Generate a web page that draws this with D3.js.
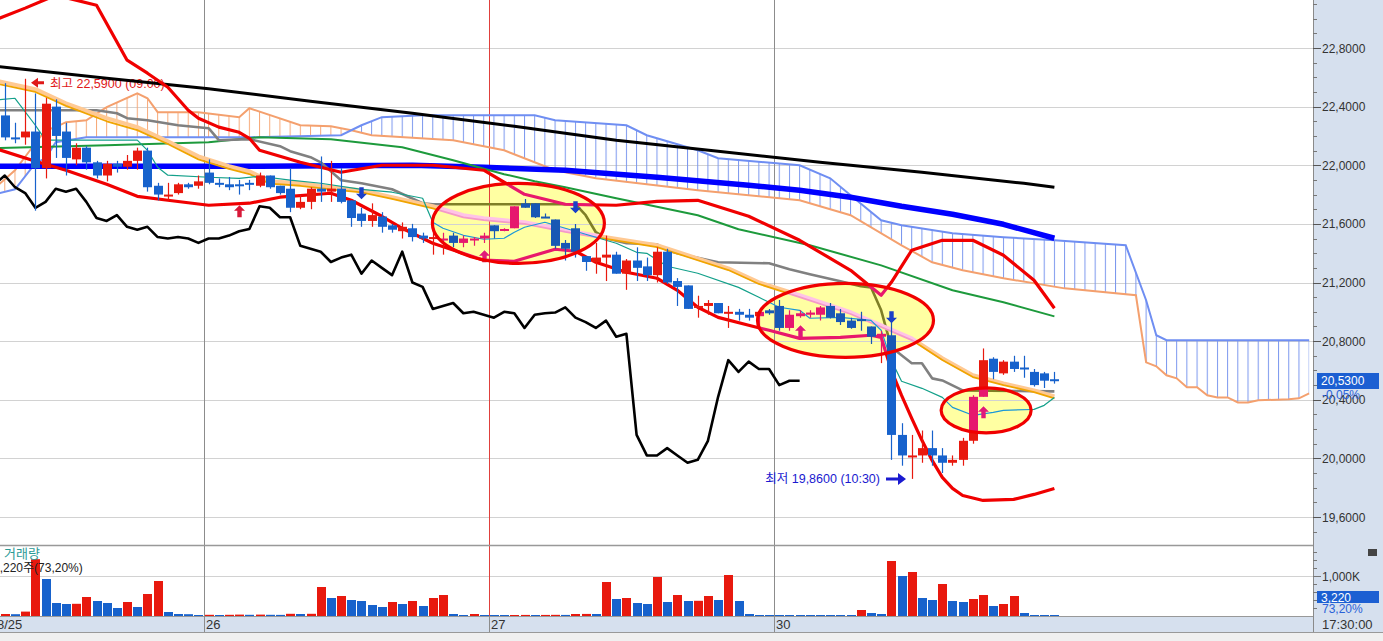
<!DOCTYPE html>
<html><head><meta charset="utf-8">
<script src="https://cdn.jsdelivr.net/npm/d3@7"></script>
<style>
body{margin:0;background:#fff;overflow:hidden}
svg{display:block}
text{font-family:"Liberation Sans","Noto Sans CJK KR",sans-serif}
</style></head>
<body><svg id="c" width="1383" height="641"></svg>
<script>
// ---------------- DATA ----------------
const dayLabels = ["8/25","26","27","30"];
const dayStart  = [-0.5, 20, 48, 76];
const priceTicks = [22.8,22.4,22.0,21.6,21.2,20.8,20.4,20.0,19.6];
const volTickLabel = 1000; // K
const opens = [22.34,22.19,22.19,22.23,21.98,22.40,22.23,22.04,22.12,22.02,21.93,22.01,21.99,22.03,22.10,21.86,21.795,21.81,21.87,21.86,
21.95,21.88,21.87,21.87,21.88,21.86,21.93,21.86,21.84,21.71,21.75,21.84,21.82,21.84,21.76,21.67,21.62,21.65,21.59,21.55,
21.57,21.52,21.50,21.49,21.52,21.47,21.49,21.50,21.59,21.56,21.57,21.74,21.74,21.65,21.63,21.47,21.57,21.38,21.34,21.37,
21.39,21.26,21.35,21.31,21.25,21.41,21.21,21.18,21.03,21.04,21.06,20.99,21.00,20.98,20.97,21.01,21.04,20.89,20.97,20.98,
20.98,21.04,20.99,20.94,20.95,20.90,20.83,20.84,20.16,20.01,20.02,20.07,20.02,19.97,19.99,20.12,20.42,20.68,20.58,20.66,
20.62,20.59,20.58,20.54];
const closes = [22.19,22.18,22.23,21.98,22.42,22.20,22.05,22.12,22.02,21.93,22.01,21.99,22.03,22.10,21.85,21.80,21.80,21.87,21.85,21.89,
21.88,21.87,21.85,21.86,21.87,21.93,21.85,21.81,21.71,21.75,21.84,21.82,21.84,21.75,21.64,21.62,21.66,21.58,21.56,21.58,
21.51,21.50,21.51,21.50,21.47,21.50,21.50,21.52,21.55,21.565,21.72,21.71,21.645,21.645,21.45,21.43,21.41,21.34,21.37,21.39,
21.26,21.35,21.30,21.25,21.41,21.20,21.17,21.02,21.04,21.06,20.99,21.00,20.98,20.96,21.00,20.99,20.89,20.98,20.99,20.995,
21.03,20.96,20.93,20.89,20.94,20.83,20.85,20.16,20.02,20.02,20.07,20.02,19.97,19.99,20.12,20.42,20.67,20.59,20.66,20.61,
20.61,20.50,20.53,20.53];
const highs = [22.56,22.29,22.59,22.49,22.46,22.45,22.29,22.15,22.13,22.03,22.03,22.03,22.07,22.12,22.12,21.88,21.88,21.88,21.88,21.93,
22.04,21.91,21.92,21.90,21.90,21.95,21.93,21.86,21.98,21.80,21.85,22.06,22.03,21.98,21.76,21.71,21.74,21.68,21.60,21.61,
21.60,21.54,21.58,21.54,21.54,21.52,21.51,21.54,21.59,21.57,21.72,21.77,21.74,21.67,21.63,21.49,21.60,21.38,21.47,21.52,
21.41,21.36,21.44,21.37,21.44,21.43,21.23,21.18,21.11,21.08,21.06,21.04,21.02,21.02,21.01,21.02,21.08,21.01,21.01,21.01,
21.04,21.06,21.02,20.96,21.00,20.90,20.87,20.94,20.24,20.16,20.19,20.19,20.07,20.02,20.14,20.43,20.75,20.69,20.67,20.70,
20.70,20.61,20.59,20.59];
const lows = [22.17,22.15,22.14,21.69,21.91,22.05,21.93,22.00,21.97,21.91,21.89,21.95,21.97,21.97,21.82,21.76,21.76,21.80,21.84,21.84,
21.87,21.85,21.83,21.80,21.83,21.85,21.84,21.80,21.68,21.70,21.70,21.75,21.75,21.74,21.58,21.58,21.58,21.54,21.54,21.50,
21.48,21.47,21.39,21.39,21.44,21.44,21.45,21.47,21.50,21.55,21.57,21.71,21.64,21.64,21.43,21.35,21.37,21.28,21.26,21.21,
21.26,21.15,21.21,21.21,21.20,21.19,21.04,21.02,20.96,20.98,20.99,20.89,20.94,20.94,20.89,20.98,20.87,20.87,20.96,20.96,
20.94,20.955,20.91,20.885,20.87,20.78,20.65,19.99,19.95,19.86,19.97,19.95,19.90,19.95,19.95,20.10,20.42,20.54,20.57,20.59,
20.55,20.49,20.48,20.51];
const volumes = [50,45,110,1420,925,325,300,305,475,375,325,200,350,225,550,875,100,50,45,25,
30,25,30,35,30,35,30,28,55,50,55,725,450,500,400,375,275,225,350,300,
375,250,450,525,50,25,50,25,25,22,25,27,25,27,29,27,50,52,50,850,
425,450,325,300,975,350,525,375,380,500,400,1025,375,50,25,22,20,18,16,15,
14,13,12,11,150,75,50,1375,1000,1100,450,400,800,375,350,425,525,250,300,500,
75,25,22,3.22];
const lastChange = "-0,05%";
const lastVolPct = "73,20%";
const highNote = "최고 22,5900 (09:00)";
const lowNote  = "최저 19,8600 (10:30)";
const highIdx = 2, lowIdx = 89;
const chikouShift = 25;

// indicator lines: [bar index, price]
const maLong = [[-1,22.676],[10,22.594],[20,22.522],[30,22.437],[40,22.355],[50,22.266],[60,22.171],[70,22.096],[80,22.020],[90,21.952],[100,21.877],[103,21.850]];
const maBlue = [[-1,21.993],[25,21.993],[40,22.000],[47,21.986],[55,21.966],[64,21.918],[73,21.864],[78,21.829],[83,21.782],[88,21.720],[93,21.666],[98,21.597],[103,21.502]];
const maGreen = [[-1,22.116],[10,22.137],[20,22.157],[25,22.191],[32,22.178],[39,22.123],[44,22.034],[49,21.939],[52,21.891],[55,21.850],[60,21.775],[68,21.659],[72,21.563],[79,21.454],[86,21.317],[93,21.147],[98,21.065],[103,20.969]];
const kijun = [[-1,22.375],[9,22.375],[11,22.355],[12,22.321],[14,22.307],[17,22.273],[20,22.253],[21,22.171],[24,22.178],[27,22.130],[28,22.096],[30,22.055],[31,22.020],[33,21.898],[35,21.877],[38,21.836],[41,21.741],[42,21.734],[56,21.734],[57,21.659],[58,21.543],[59,21.502],[61,21.468],[64,21.461],[65,21.420],[66,21.399],[70,21.338],[75,21.331],[77,21.290],[79,21.256],[82,21.208],[84,21.174],[85,21.167],[86,21.010],[87,20.758],[88,20.703],[89,20.649],[90,20.649],[91,20.546],[92,20.532],[94,20.464],[103,20.457]];
const tenkan = [[-1,22.444],[1,22.457],[3,22.273],[4,22.171],[13,22.171],[14,22.102],[15,21.986],[16,21.932],[20,21.918],[23,21.911],[25,21.925],[28,21.898],[31,21.877],[35,21.836],[38,21.816],[41,21.775],[42,21.611],[43,21.570],[45,21.522],[47,21.495],[49,21.502],[50,21.543],[51,21.577],[53,21.611],[55,21.570],[57,21.529],[59,21.488],[60,21.468],[62,21.406],[63,21.399],[65,21.311],[68,21.263],[72,21.167],[74,21.099],[75,21.065],[76,21.031],[78,21.010],[79,20.956],[82,20.962],[85,20.942],[86,20.874],[87,20.669],[88,20.526],[90,20.478],[92,20.416],[93,20.348],[95,20.294],[97,20.314],[98,20.328],[101,20.334],[102,20.362],[103,20.416]];
const maPeach = [[-1,22.580],[3,22.519],[6,22.423],[10,22.321],[13,22.260],[16,22.164],[19,22.061],[22,21.993],[24,21.959],[26,21.891],[29,21.877],[32,21.850],[35,21.829],[38,21.782],[42,21.720],[45,21.659],[47,21.638],[51,21.611],[55,21.556],[59,21.509],[64,21.454],[67,21.386],[71,21.297],[74,21.201],[78,21.113],[83,20.997],[89,20.819],[92,20.683],[95,20.567],[98,20.512],[101,20.464],[103,20.423]];
const maOrange = [[-1,22.56],[3,22.50],[6,22.405],[10,22.30],[13,22.24],[16,22.145],[19,22.04],[22,21.975],[24,21.94],[26,21.875],[29,21.86],[32,21.835],[35,21.815],[38,21.77],[42,21.705],[45,21.645],[47,21.625],[51,21.60],[55,21.545],[59,21.497],[64,21.442],[67,21.374],[71,21.285],[74,21.19],[78,21.10],[83,20.985],[89,20.807],[92,20.671],[95,20.555],[98,20.50],[101,20.452],[103,20.41]];
const bbUpper = [[-1,22.990],[2,23.072],[5,23.160],[9,23.092],[12,22.717],[14,22.628],[16,22.532],[18,22.375],[19,22.321],[21,22.260],[23,22.225],[24,22.184],[25,22.102],[29,22.020],[33,21.952],[37,22.000],[42,22.000],[47,21.966],[49,21.884],[51,21.802],[55,21.734],[60,21.727],[64,21.754],[68,21.761],[73,21.652],[78,21.488],[83,21.283],[86,21.113],[87,21.201],[89,21.420],[92,21.488],[95,21.488],[98,21.386],[101,21.215],[103,21.024]];
const bbLower = [[-1,22.116],[3,22.027],[6,21.966],[10,21.870],[13,21.788],[16,21.761],[20,21.727],[24,21.741],[27,21.782],[32,21.809],[34,21.761],[37,21.652],[39,21.570],[42,21.468],[47,21.352],[50,21.345],[54,21.427],[56,21.413],[58,21.338],[61,21.270],[64,21.229],[66,21.147],[68,21.031],[70,20.962],[73,20.908],[75,20.874],[78,20.819],[82,20.826],[85,20.840],[86,20.826],[87,20.601],[88,20.430],[89,20.273],[90,20.123],[91,19.986],[92,19.870],[93,19.795],[94,19.747],[96,19.713],[99,19.720],[101,19.754],[103,19.795]];
const spanA = [[-1,21.802],[1,21.836],[3,22.014],[4,22.048],[5,22.157],[8,22.191],[24,22.191],[33,22.205],[35,22.273],[37,22.328],[41,22.341],[52,22.341],[54,22.307],[61,22.273],[63,22.205],[68,22.102],[70,22.048],[78,22.000],[81,21.911],[83,21.796],[86,21.625],[88,21.591],[93,21.536],[98,21.509],[103,21.488],[110,21.454],[112,21.079],[113,20.840],[114,20.806],[128,20.806]];
const spanB = [[-1,21.843],[1,21.966],[3,22.150],[4,22.239],[5,22.260],[6,22.294],[8,22.307],[10,22.396],[13,22.491],[14,22.457],[15,22.362],[19,22.362],[23,22.328],[24,22.389],[29,22.273],[32,22.266],[34,22.239],[36,22.205],[44,22.171],[49,22.102],[54,21.966],[58,21.911],[68,21.829],[78,21.761],[83,21.659],[88,21.454],[91,21.338],[94,21.283],[98,21.229],[104,21.160],[111,21.113],[112,20.655],[113,20.628],[114,20.567],[115,20.546],[116,20.485],[117,20.485],[118,20.430],[119,20.416],[120,20.416],[121,20.382],[122,20.382],[123,20.396],[126,20.403],[127,20.410],[128,20.444]];
const cloudCross = 34;
const signalIdx   = [23,35,47,56,78,87,96];
const signalDir   = ["up","down","up","down","up","down","up"];
const signalPrice = [21.727,21.768,21.420,21.672,20.908,20.922,20.355];
const ellipseIdx = [50.4, 82.5, 96.3];
const ellipsePrice = [21.604, 20.942, 20.328];

// ---------------- LAYOUT ----------------
const W=1383,H=641, PR=1313, PB=545, VB=616, SB=632;
const x = d3.scaleLinear().domain([0,103]).range([4.8,1054.4]);
const y = d3.scaleLinear().domain([19.6,22.8]).range([517,48]);
const yv = d3.scaleLinear().domain([0,1000]).range([VB,576]);
const step = x(1)-x(0);
const ellR = [[86,40],[88,37],[45,22.5]];
const fmtP = v => d3.format(".4f")(v).replace(".", ",");

const NORMAL = {red:"#e8190e", blue:"#1762cc", gray:"#808080", teal:"#13a08a", peach:"#ffc993",
  orange:"#f0a400", bb:"#f00000", green:"#1d9a3c", up:"#d81838", down:"#1a3ec8"};
const ALT = {red:"#e6186e", blue:"#1858b4", gray:"#7f7f26", teal:"#1a98d8", peach:"#ffc3e6",
  orange:"#f49ac8", bb:"#e8186c", green:"#1d9a3c", up:"#e0187a", down:"#1a40c8"};

const svg = d3.select("#c");
const defs = svg.append("defs");
defs.append("clipPath").attr("id","cp").append("rect").attr("x",0).attr("y",0).attr("width",PR).attr("height",PB);
defs.append("clipPath").attr("id","cv").append("rect").attr("x",0).attr("y",PB+1).attr("width",PR).attr("height",VB-PB-1);
defs.append("clipPath").attr("id","cs").append("rect").attr("x",0).attr("y",VB).attr("width",PR).attr("height",SB-VB);
const ce = defs.append("clipPath").attr("id","ce");
ellipseIdx.forEach((e,k)=>ce.append("ellipse").attr("cx",x(e)).attr("cy",y(ellipsePrice[k])).attr("rx",ellR[k][0]).attr("ry",ellR[k][1]));
defs.append("clipPath").attr("id","cl").append("rect").attr("x",-10).attr("y",0).attr("width",x(cloudCross)+10).attr("height",PB);
defs.append("clipPath").attr("id","cr").append("rect").attr("x",x(cloudCross)).attr("y",0).attr("width",PR).attr("height",PB);
function pattern(id,color){
  const p = defs.append("pattern").attr("id",id).attr("patternUnits","userSpaceOnUse")
    .attr("x",x(0)-0.5).attr("y",0).attr("width",step).attr("height",H);
  p.append("rect").attr("x",0).attr("y",0).attr("width",1).attr("height",H).attr("fill",color);
}
pattern("hb","#7b97ee"); pattern("hp","#f6a877");

// backgrounds
svg.append("rect").attr("width",W).attr("height",H).attr("fill","#fff");
svg.append("rect").attr("x",PR).attr("y",0).attr("width",W-PR).attr("height",SB).attr("fill","#d6e0ee");
svg.append("rect").attr("x",0).attr("y",VB).attr("width",PR).attr("height",SB-VB).attr("fill","#d6e0ee");
svg.append("rect").attr("x",0).attr("y",SB).attr("width",W).attr("height",H-SB).attr("fill","#f0f0f0");

const line = d3.line().x(d=>x(d[0])).y(d=>y(d[1]));

function drawGrid(g){
  g.selectAll(null).data(priceTicks).join("line")
    .attr("x1",0).attr("x2",PR).attr("y1",d=>Math.round(y(d))+0.5).attr("y2",d=>Math.round(y(d))+0.5)
    .attr("stroke","#d2d2d2");
  g.selectAll(null).data(dayStart.slice(1)).join("line")
    .attr("x1",d=>Math.round(x(d-0.5))+0.5).attr("x2",d=>Math.round(x(d-0.5))+0.5)
    .attr("y1",0).attr("y2",PB)
    .attr("stroke",(d,k)=>k===1?"#e0403c":"#8c8c8c");
}

function drawMarks(g,P){
  const path=(data,color,w)=>g.append("path").attr("d",line(data)).attr("fill","none")
    .attr("stroke",color).attr("stroke-width",w).attr("stroke-linejoin","round");
  const chikou = closes.map((c,i)=>[i-chikouShift,c]).filter(d=>d[0]>=-1);
  path(chikou,"#000",2.6);
  path(maLong,"#000",3);
  path(maBlue,"#0000ff",5.5);
  path(maGreen,P.green,2);
  path(kijun,P.gray,2.6);
  path(maPeach,P.peach,4);
  path(maOrange,P.orange,1.8);
  path(tenkan,P.teal,1.2);
  path(bbUpper,P.bb,3.2);
  path(bbLower,P.bb,3.2);
  const idx = d3.range(opens.length);
  const cg = g.append("g");
  cg.selectAll(null).data(idx).join("line")
    .attr("x1",i=>Math.round(x(i))+0.5).attr("x2",i=>Math.round(x(i))+0.5)
    .attr("y1",i=>y(highs[i])).attr("y2",i=>y(lows[i]))
    .attr("stroke",i=>closes[i]>=opens[i]?P.red:P.blue).attr("stroke-width",1.2);
  cg.selectAll(null).data(idx).join("rect")
    .attr("x",i=>Math.round(x(i))-4).attr("width",9)
    .attr("y",i=>y(Math.max(opens[i],closes[i])))
    .attr("height",i=>Math.max(2,Math.abs(y(opens[i])-y(closes[i]))))
    .attr("fill",i=>closes[i]>=opens[i]?P.red:P.blue);
  signalIdx.forEach((i,k)=>{
    const tx=Math.round(x(i))+0.5, ty=y(signalPrice[k]);
    const s = signalDir[k]==="up"?1:-1;
    const pts=[[0,0],[5.5,5.5],[2.2,5.5],[2.2,12],[-2.2,12],[-2.2,5.5],[-5.5,5.5]].map(p=>[tx+p[0],ty+s*p[1]]);
    g.append("polygon").attr("points",pts.map(p=>p.join(",")).join(" "))
      .attr("fill",s>0?P.up:P.down);
  });
}

// ---------- price panel ----------
const gp = svg.append("g").attr("clip-path","url(#cp)");
drawGrid(gp);
{
  const hx = Math.round(x(highIdx))+6, hy = y(highs[highIdx])+4;
  gp.append("path").attr("d",`M${hx},${hy} l7,-5 v3.5 h6 v3 h-6 v3.5 z`).attr("fill","#e01818");
  gp.append("text").attr("x",hx+19).attr("y",hy+5).attr("font-size",12.5).attr("fill","#e01818").text(highNote);
}
const cloudPoly = spanA.concat(spanB.slice().reverse());
const cloudPath = d3.line().x(d=>x(d[0])).y(d=>y(d[1]))(cloudPoly)+"Z";
gp.append("path").attr("d",cloudPath).attr("fill","url(#hp)").attr("clip-path","url(#cl)");
gp.append("path").attr("d",cloudPath).attr("fill","url(#hb)").attr("clip-path","url(#cr)");
gp.append("path").attr("d",line(spanB)).attr("fill","none").attr("stroke","#f4a06e").attr("stroke-width",2);
gp.append("path").attr("d",line(spanA)).attr("fill","none").attr("stroke","#6f8ef2").attr("stroke-width",2);

drawMarks(gp, NORMAL);

const ge = gp.append("g").attr("clip-path","url(#ce)");
ge.append("rect").attr("x",0).attr("y",0).attr("width",PR).attr("height",PB).attr("fill","#ffffa2");
drawGrid(ge);
drawMarks(ge, ALT);
ellipseIdx.forEach((e,k)=>gp.append("ellipse").attr("cx",x(e)).attr("cy",y(ellipsePrice[k]))
  .attr("rx",ellR[k][0]).attr("ry",ellR[k][1]).attr("fill","none").attr("stroke","#f00000").attr("stroke-width",3.2));

{
  const tx = Math.round(x(lowIdx))-6, ty = y(lows[lowIdx]);
  gp.append("path").attr("d",`M${tx},${ty} l-8,-6 v4.5 h-12 v3 h12 v4.5 z`).attr("fill","#1a1ad0");
  gp.append("text").attr("x",tx-26).attr("y",ty+4).attr("text-anchor","end").attr("font-size",12.5)
    .attr("fill","#1a1ad0").text(lowNote);
}

// ---------- volume panel ----------
const gv = svg.append("g").attr("clip-path","url(#cv)");
gv.append("line").attr("x1",0).attr("x2",PR).attr("y1",Math.round(yv(volTickLabel))+0.5).attr("y2",Math.round(yv(volTickLabel))+0.5).attr("stroke","#d2d2d2");
gv.selectAll(null).data(dayStart.slice(1)).join("line")
  .attr("x1",d=>Math.round(x(d-0.5))+0.5).attr("x2",d=>Math.round(x(d-0.5))+0.5)
  .attr("y1",PB).attr("y2",VB).attr("stroke",(d,k)=>k===1?"#e0403c":"#8c8c8c");
gv.selectAll(null).data(d3.range(volumes.length)).join("rect")
  .attr("x",i=>Math.round(x(i))-4).attr("width",9)
  .attr("y",i=>Math.min(yv(volumes[i]),VB-1)).attr("height",i=>Math.max(1,VB-yv(volumes[i])))
  .attr("fill",i=>(i===0||volumes[i]>volumes[i-1])?NORMAL.red:NORMAL.blue);
gv.append("text").attr("x",4).attr("y",558).attr("font-size",13).attr("fill","#2a9a96").text("거래량");
gv.append("text").attr("x",-7).attr("y",572).attr("font-size",12).attr("fill","#222")
  .text(d3.format(",")(Math.round(volumes[volumes.length-1]*1000))+"주("+lastVolPct+")");

svg.append("line").attr("x1",0).attr("x2",PR).attr("y1",PB+0.5).attr("y2",PB+0.5).attr("stroke","#999").attr("stroke-width",1.5);
svg.append("line").attr("x1",0).attr("x2",PR).attr("y1",VB+0.5).attr("y2",VB+0.5).attr("stroke","#999");
svg.append("line").attr("x1",0).attr("x2",W).attr("y1",SB+0.5).attr("y2",SB+0.5).attr("stroke","#999");
svg.append("line").attr("x1",PR+0.5).attr("x2",PR+0.5).attr("y1",0).attr("y2",SB).attr("stroke","#8a8a8a");

// ---------- date strip ----------
const gs = svg.append("g").attr("clip-path","url(#cs)");
gs.selectAll(null).data(dayStart.slice(1)).join("line")
  .attr("x1",d=>Math.round(x(d-0.5))+0.5).attr("x2",d=>Math.round(x(d-0.5))+0.5)
  .attr("y1",VB).attr("y2",SB).attr("stroke","#8c8c8c");
gs.selectAll(null).data(dayLabels).join("text")
  .attr("x",(d,k)=>Math.round(x(dayStart[k]-0.5))+2).attr("y",629).attr("font-size",13).attr("fill","#333").text(d=>d);
svg.append("text").attr("x",PR+9).attr("y",629).attr("font-size",13).attr("fill","#333").text("17:30:00");

// ---------- right price axis ----------
const ga = svg.append("g");
const minor = d3.range(195,232).map(v=>v/10).filter(v=>y(v)>2 && y(v)<PB-2);
ga.selectAll(null).data(minor).join("line")
  .attr("x1",PR).attr("x2",PR+4).attr("y1",d=>Math.round(y(d))+0.5).attr("y2",d=>Math.round(y(d))+0.5).attr("stroke","#777");
ga.selectAll(null).data(priceTicks).join("line")
  .attr("x1",PR).attr("x2",PR+8).attr("y1",d=>Math.round(y(d))+0.5).attr("y2",d=>Math.round(y(d))+0.5).attr("stroke","#555");
ga.selectAll(null).data(priceTicks).join("text")
  .attr("x",PR+9).attr("y",d=>y(d)+4.5).attr("font-size",12).attr("fill","#333").text(fmtP);
const last = closes[closes.length-1];
ga.append("rect").attr("x",PR+4).attr("y",Math.round(y(last))-8).attr("width",62).attr("height",16).attr("fill","#1c5fd2");
ga.append("text").attr("x",PR+8).attr("y",y(last)+4.5).attr("font-size",12).attr("fill","#fff").text(fmtP(last));
ga.append("text").attr("x",PR+9).attr("y",y(last)+18).attr("font-size",12).attr("fill","#2a62d8").text(lastChange);

const vt = d3.range(200,1801,200).filter(v=>yv(v)>PB+3);
ga.selectAll(null).data(vt).join("line")
  .attr("x1",PR).attr("x2",d=>d===volTickLabel?PR+8:PR+4)
  .attr("y1",d=>Math.round(yv(d))+0.5).attr("y2",d=>Math.round(yv(d))+0.5).attr("stroke","#777");
ga.append("text").attr("x",PR+9).attr("y",yv(volTickLabel)+4.5).attr("font-size",12).attr("fill","#333")
  .text(d3.format(",")(volTickLabel)+"K");
ga.append("rect").attr("x",PR+4).attr("y",591).attr("width",62).attr("height",12).attr("fill","#1c5fd2");
ga.append("text").attr("x",PR+8).attr("y",601.5).attr("font-size",12).attr("fill","#fff")
  .text(d3.format(",")(Math.round(volumes[volumes.length-1]*1000)));
ga.append("text").attr("x",PR+9).attr("y",613).attr("font-size",12).attr("fill","#2a62d8").text(lastVolPct);
ga.append("rect").attr("x",1368).attr("y",549).attr("width",9).attr("height",7).attr("fill","#444");
</script></body></html>
